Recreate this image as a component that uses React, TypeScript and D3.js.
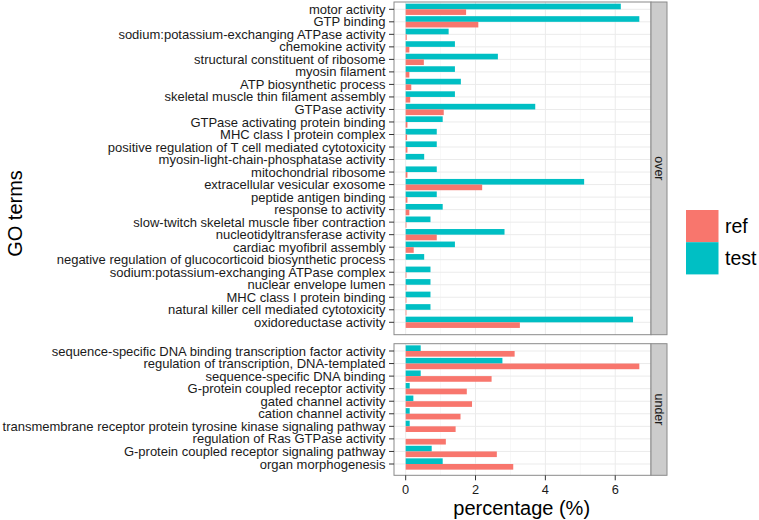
import React from "react";
import * as d3 from "d3";

const overTerms = [
  "motor activity",
  "GTP binding",
  "sodium:potassium-exchanging ATPase activity",
  "chemokine activity",
  "structural constituent of ribosome",
  "myosin filament",
  "ATP biosynthetic process",
  "skeletal muscle thin filament assembly",
  "GTPase activity",
  "GTPase activating protein binding",
  "MHC class I protein complex",
  "positive regulation of T cell mediated cytotoxicity",
  "myosin-light-chain-phosphatase activity",
  "mitochondrial ribosome",
  "extracellular vesicular exosome",
  "peptide antigen binding",
  "response to activity",
  "slow-twitch skeletal muscle fiber contraction",
  "nucleotidyltransferase activity",
  "cardiac myofibril assembly",
  "negative regulation of glucocorticoid biosynthetic process",
  "sodium:potassium-exchanging ATPase complex",
  "nuclear envelope lumen",
  "MHC class I protein binding",
  "natural killer cell mediated cytotoxicity",
  "oxidoreductase activity",
];
const overRef = [1.73, 2.08, 0.03, 0.105, 0.52, 0.105, 0.16, 0.13, 1.09, 0.05, 0.04, 0.05, 0, 0.05, 2.19, 0.05, 0.105, 0.02, 0.89, 0.23, 0, 0.02, 0.02, 0.02, 0.02, 3.27];
const overTest = [6.16, 6.69, 1.23, 1.41, 2.64, 1.41, 1.58, 1.41, 3.71, 1.06, 0.89, 0.89, 0.53, 0.89, 5.11, 0.89, 1.06, 0.71, 2.83, 1.41, 0.53, 0.71, 0.71, 0.71, 0.71, 6.51];

const underTerms = [
  "sequence-specific DNA binding transcription factor activity",
  "regulation of transcription, DNA-templated",
  "sequence-specific DNA binding",
  "G-protein coupled receptor activity",
  "gated channel activity",
  "cation channel activity",
  "transmembrane receptor protein tyrosine kinase signaling pathway",
  "regulation of Ras GTPase activity",
  "G-protein coupled receptor signaling pathway",
  "organ morphogenesis",
];
const underRef = [3.12, 6.69, 2.46, 1.75, 1.9, 1.57, 1.43, 1.15, 2.61, 3.08];
const underTest = [0.43, 2.77, 0.43, 0.115, 0.22, 0.115, 0.115, 0, 0.745, 1.06];

const xTicks = [0, 2, 4, 6];
const xMinor = [1, 3, 5];
const seriesNames = ["ref", "test"];
const seriesColors = ["#F8766D", "#00BFC4"];
const facetNames = ["over", "under"];

const FONT = "'Liberation Sans', Arial, Helvetica, sans-serif";

export default function App() {
  const W = 759, H = 520;
  const pL = 394, pR = 651;
  const stripR = 667;
  const maxV = 6.69;
  const x = d3.scaleLinear().domain([-0.05 * maxV, maxV * 1.05]).range([pL, pR]);

  const panels = [
    { name: facetNames[0], terms: overTerms, ref: overRef, test: overTest, top: 2, bottom: 334.7, first: 9.3, last: 322.3 },
    { name: facetNames[1], terms: underTerms, ref: underRef, test: underTest, top: 343.7, bottom: 475.3, first: 351, last: 464 },
  ];

  return (
    <div style={{ position: "absolute", left: 0, top: 0 }}>
      <svg width={W} height={H} style={{ display: "block", background: "#fff" }} fontFamily={FONT}>
        {panels.map((p) => {
          const y = d3.scalePoint<string>().domain(p.terms).range([p.first, p.last]);
          const step = y.step();
          const bh = step * 0.45;
          return (
            <g key={p.name}>
              <rect x={pL} y={p.top} width={pR - pL} height={p.bottom - p.top} fill="#fff" />
              {xMinor.map((t) => (
                <line key={"mi" + t} x1={x(t)} x2={x(t)} y1={p.top} y2={p.bottom} stroke="#f2f2f2" strokeWidth={0.6} />
              ))}
              {xTicks.map((t) => (
                <line key={"ma" + t} x1={x(t)} x2={x(t)} y1={p.top} y2={p.bottom} stroke="#ebebeb" strokeWidth={1} />
              ))}
              {p.terms.map((t) => (
                <line key={"h" + t} x1={pL} x2={pR} y1={y(t)} y2={y(t)} stroke="#ebebeb" strokeWidth={1} />
              ))}
              {p.terms.map((t, i) => (
                <g key={"b" + t}>
                  {p.test[i] > 0 && (
                    <rect x={x(0)} y={(y(t) as number) - bh} width={x(p.test[i]) - x(0)} height={bh} fill={seriesColors[1]} />
                  )}
                  {p.ref[i] > 0 && (
                    <rect x={x(0)} y={y(t) as number} width={x(p.ref[i]) - x(0)} height={bh} fill={seriesColors[0]} />
                  )}
                </g>
              ))}
              <rect x={pL} y={p.top} width={pR - pL} height={p.bottom - p.top} fill="none" stroke="#8a8a8a" strokeWidth={1} />
              <rect x={pR} y={p.top} width={stripR - pR} height={p.bottom - p.top} fill="#cccccc" stroke="#8a8a8a" strokeWidth={1} />
              <text
                transform={`translate(${(pR + stripR) / 2},${(p.top + p.bottom) / 2}) rotate(90)`}
                textAnchor="middle"
                dominantBaseline="central"
                fontSize={12.5}
                fill="#1a1a1a"
              >
                {p.name}
              </text>
              {p.terms.map((t) => (
                <g key={"t" + t}>
                  <line x1={pL - 5} x2={pL} y1={y(t)} y2={y(t)} stroke="#333" strokeWidth={1} />
                  <text x={pL - 8.5} y={y(t)} dy="0.35em" textAnchor="end" fontSize={13} fill="#1a1a1a">
                    {t}
                  </text>
                </g>
              ))}
            </g>
          );
        })}
        {xTicks.map((t) => (
          <g key={"xt" + t}>
            <line x1={x(t)} x2={x(t)} y1={475.3} y2={480.3} stroke="#333" strokeWidth={1} />
            <text x={x(t)} y={494} textAnchor="middle" fontSize={12.8} fill="#1a1a1a">
              {t}
            </text>
          </g>
        ))}
        <text x={521.7} y={514.5} textAnchor="middle" fontSize={20} fill="#000">
          percentage (%)
        </text>
        <text transform="translate(22,213.5) rotate(-90)" textAnchor="middle" fontSize={20} fill="#000">
          GO terms
        </text>
        {seriesNames.map((s, i) => (
          <g key={s}>
            <rect x={686} y={210 + i * 32.2} width={32.5} height={32.2} fill={seriesColors[i]} />
            <text x={725} y={210 + i * 32.2 + 16.1} dy="0.35em" fontSize={19.5} fill="#000">
              {s}
            </text>
          </g>
        ))}
      </svg>
    </div>
  );
}
